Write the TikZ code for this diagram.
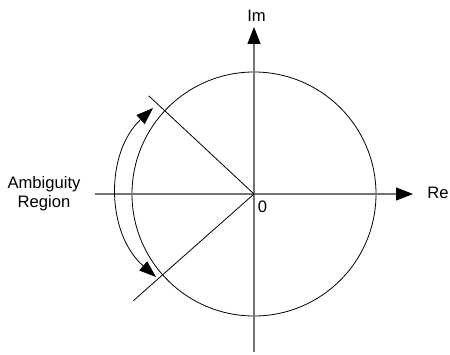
\documentclass[tikz,border=0pt]{standalone}
\usepackage{fontspec}
\setmainfont{Liberation Sans}
\usetikzlibrary{arrows.meta}
\begin{document}
\begin{tikzpicture}[x=1pt,y=-1pt,
  axisline/.style={draw=black!55,line width=1.2pt,-{Triangle[length=17pt,width=13pt,fill=black,color=black]}},
  thinline/.style={draw=black,line width=0.8pt},
  dblarrow/.style={draw=black,line width=0.8pt,{Triangle[length=17pt,width=12pt]}-{Triangle[length=17pt,width=12pt]}},
  lbl/.style={font=\fontsize{16.6}{19}\selectfont,inner sep=0pt,align=center}]
\useasboundingbox (0,0) rectangle (450,355);
\coordinate (O) at (254,194);
\coordinate (XL) at (95,194);
\coordinate (XR) at (413,194);
\coordinate (YB) at (254,352);
\coordinate (YT) at (254,27);
\coordinate (DU) at (148.7,95.8);
\coordinate (DL) at (133.4,300.7);
\coordinate (AT) at (153,108);
\coordinate (AB) at (156,277);
\node[circle,thinline,minimum size=244pt,inner sep=0pt] (C) at (O) {};
\draw[axisline] (XL) -- (XR);
\draw[axisline] (YB) -- (YT);
\draw[thinline] (DU) -- (O) -- (DL);
\draw[dblarrow] (AT) to[bend right=48] (AB);
\node[lbl] (im) at (256.5,16) {Im};
\node[lbl] (re) at (438,193) {Re};
\node[lbl] (zero) at (262.5,206.5) {0};
\node[lbl] (amb) at (44,194) {Ambiguity\\Region};
\end{tikzpicture}
\end{document}
